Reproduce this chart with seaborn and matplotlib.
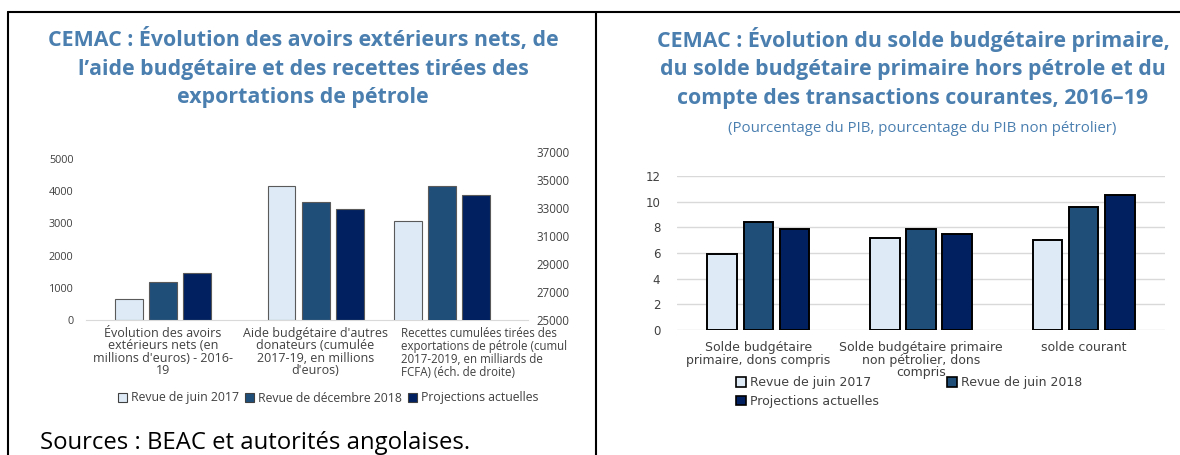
import numpy as np
import pandas as pd
import matplotlib
matplotlib.use('Agg')
import matplotlib.pyplot as plt
import matplotlib.transforms as mtransforms
from matplotlib.lines import Line2D
from matplotlib.patches import Patch
import seaborn as sns

# left panel data
left_series = ['Revue de juin 2017', 'Revue de décembre 2018', 'Projections actuelles']
left_cats = ["Évolution des avoirs\nextérieurs nets (en\nmillions d'euros) - 2016-\n19",
             "Aide budgétaire d'autres\ndonateurs (cumulée\n2017-19, en millions\nd'euros)",
             "Recettes cumulées tirées des\nexportations de pétrole (cumul\n2017-2019, en milliards de\nFCFA) (éch. de droite)"]
avoirs = [640, 1170, 1450]
aide = [4160, 3670, 3450]
recettes = [32100, 34600, 33900]   # right axis
left_yticks = [0, 1000, 2000, 3000, 4000, 5000]
right_yticks = [25000, 27000, 29000, 31000, 33000, 35000, 37000]

# right panel data
right_series = ['Revue de juin 2017', 'Revue de juin 2018', 'Projections actuelles']
right_cats = ["Solde budgétaire\nprimaire, dons compris",
              "Solde budgétaire primaire\nnon pétrolier, dons\ncompris",
              "solde courant"]
solde_primaire = [5.9, 8.4, 7.9]
solde_hors_petrole = [7.2, 7.9, 7.5]
solde_courant = [7.0, 9.6, 10.5]
pct_yticks = [0, 2, 4, 6, 8, 10, 12]

colors = ['#deebf7', '#1f4e79', '#002060']
title_col = '#4a7fb0'
txt_col = '#404040'

sns.set_style('white')
plt.rcParams['font.family'] = ['Open Sans', 'DejaVu Sans']

W, H = 1180, 455
fig = plt.figure(figsize=(W / 100, H / 100), dpi=100)

def rect(x0, x1, y0, y1):
	return [x0 / W, 1 - y1 / H, (x1 - x0) / W, (y1 - y0) / H]

# ---------- left panel ----------
df_left = pd.DataFrame({'cat': np.repeat(left_cats[:2], 3),
                        'serie': left_series * 2,
                        'val': avoirs + aide})
df_sec = pd.DataFrame({'cat': [left_cats[2]] * 3, 'serie': left_series, 'val': recettes})
pal_left = dict(zip(left_series, colors))

ax1 = fig.add_axes(rect(86, 528, 152, 320))
sns.barplot(data=df_left, x='cat', y='val', hue='serie', order=left_cats, hue_order=left_series,
            palette=pal_left, saturation=1, width=0.67, gap=0.18, edgecolor='#5a5a5a',
            linewidth=0.8, legend=False, ax=ax1)
ax1.set_xlim(-0.505, 2.393)
ax1.set_ylim(0, 5217)
ax1.set_yticks(left_yticks)
ax1.set_xlabel('')
ax1.set_ylabel('')
for s in ['top', 'right', 'left']:
	ax1.spines[s].set_visible(False)
ax1.spines['bottom'].set_color('#d9d9d9')
ax1.tick_params(axis='y', length=0, pad=9, labelsize=7.8, labelcolor=txt_col)
ax1.tick_params(axis='x', length=0, pad=5, labelsize=9, labelcolor=txt_col)
for i, lab in enumerate(ax1.get_xticklabels()):
	lab.set_linespacing(0.93)
	if i == 2:
		lab.set_multialignment('left')
		lab.set_fontsize(8.3)
		lab.set_linespacing(0.99)
		lab.set_transform(lab.get_transform() + mtransforms.ScaledTranslation(0.16, 0, fig.dpi_scale_trans))

ax2 = fig.add_axes(rect(86, 528, 152, 320), frameon=False)
sns.barplot(data=df_sec, x='cat', y='val', hue='serie', order=left_cats, hue_order=left_series,
            palette=pal_left, saturation=1, width=0.67, gap=0.18, edgecolor='#5a5a5a',
            linewidth=0.8, legend=False, ax=ax2)
ax2.set_xlim(-0.334, 2.564)
ax2.set_ylim(25000, 37000)
ax2.set_yticks(right_yticks)
ax2.set_xticks([])
ax2.set_xlabel('')
ax2.set_ylabel('')
ax2.yaxis.tick_right()
ax2.tick_params(axis='y', length=0, pad=6, labelsize=8.3, labelcolor=txt_col)

handles = [Patch(facecolor=c, edgecolor='#404040', linewidth=0.8) for c in colors]
fig.legend(handles, left_series, loc='center', bbox_to_anchor=(328 / W, 1 - 398 / H), ncol=3,
           frameon=False, fontsize=8.8, handlelength=0.75, handleheight=0.75, handletextpad=0.3,
           columnspacing=0.5, labelcolor=txt_col)

fig.text(303 / W, 1 - 68 / H,
         "CEMAC : Évolution des avoirs extérieurs nets, de\nl’aide budgétaire et des recettes tirées des\nexportations de pétrole",
         ha='center', va='center', fontsize=15.4, fontweight='bold', color=title_col, linespacing=1.48)
fig.text(40 / W, 1 - 443 / H, "Sources : BEAC et autorités angolaises.", ha='left', va='center',
         fontsize=17.2, color='black')

# ---------- right panel ----------
df_right = pd.DataFrame({'cat': np.repeat(right_cats, 3),
                         'serie': right_series * 3,
                         'val': solde_primaire + solde_hors_petrole + solde_courant})
pal_right = dict(zip(right_series, colors))

ax3 = fig.add_axes(rect(677, 1165, 176, 330))
sns.barplot(data=df_right, x='cat', y='val', hue='serie', order=right_cats, hue_order=right_series,
            palette=pal_right, saturation=1, width=0.665, gap=0.18, edgecolor='black',
            linewidth=1.4, legend=False, ax=ax3, zorder=3)
ax3.set_xlim(-0.5, 2.5)
ax3.set_ylim(0, 12)
ax3.set_yticks(pct_yticks)
ax3.set_xlabel('')
ax3.set_ylabel('')
sns.despine(ax=ax3, left=True, bottom=True)
ax3.grid(axis='y', color='#d9d9d9', linewidth=1)
ax3.set_axisbelow(True)
ax3.tick_params(axis='y', length=0, pad=12, labelsize=8.5, labelcolor=txt_col)
ax3.tick_params(axis='x', length=0, pad=8, labelsize=9, labelcolor=txt_col)
for lab in ax3.get_xticklabels():
	lab.set_family('DejaVu Sans')
	lab.set_linespacing(0.95)
for lab in ax3.get_yticklabels():
	lab.set_family('DejaVu Sans')

rh = [Patch(facecolor=c, edgecolor='black', linewidth=1.2) for c in colors]
fig.legend([rh[0], rh[2], rh[1]], [right_series[0], right_series[2], right_series[1]],
           loc='center', bbox_to_anchor=(909 / W, 1 - 392 / H), ncol=2, frameon=False,
           handlelength=0.8, handleheight=0.8, handletextpad=0.3,
           columnspacing=5.5, labelspacing=0.45, labelcolor=txt_col,
           prop={'family': 'DejaVu Sans', 'size': 9})

fig.text(913 / W, 1 - 68 / H,
         "CEMAC : Évolution du solde budgétaire primaire,\ndu solde budgétaire primaire hors pétrole et du\ncompte des transactions courantes, 2016–19",
         ha='center', va='center', fontsize=15.4, fontweight='bold', color=title_col, linespacing=1.48)
fig.text(922 / W, 1 - 129 / H, "(Pourcentage du PIB, pourcentage du PIB non pétrolier)",
         ha='center', va='center', fontsize=10.8, color=title_col)

# ---------- frame lines ----------
lw = 1.5
fig.add_artist(Line2D([8 / W, 1], [1 - 12 / H, 1 - 12 / H], color='black', linewidth=lw))
fig.add_artist(Line2D([8 / W, 8 / W], [0, 1 - 12 / H], color='black', linewidth=lw))
fig.add_artist(Line2D([596 / W, 596 / W], [0, 1 - 12 / H], color='black', linewidth=lw))

fig.savefig('out.png', dpi=100)
